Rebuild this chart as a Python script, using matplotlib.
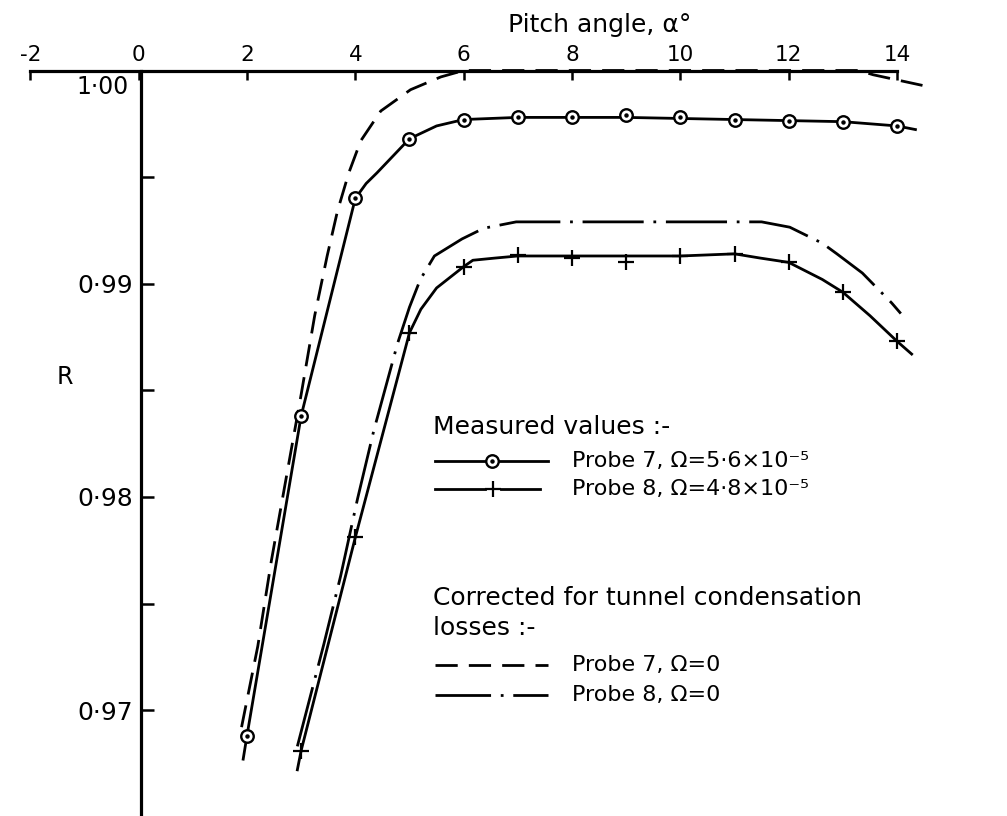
import matplotlib
matplotlib.use("Agg")
import matplotlib.pyplot as plt
from matplotlib.lines import Line2D
from matplotlib.ticker import FixedLocator, FixedFormatter

plt.rcParams["font.family"] = ["DejaVu Sans"]
plt.rcParams["lines.scale_dashes"] = False

# ---- measured values -------------------------------------------------------
alpha_p7 = [2, 3, 4, 5, 6, 7, 8, 9, 10, 11, 12, 13, 14]
r_p7 = [0.9688, 0.9838, 0.9940, 0.9968, 0.9977, 0.9978, 0.9978, 0.9979,
        0.9978, 0.9977, 0.99765, 0.9976, 0.9974]

alpha_p8 = [3, 4, 5, 6, 7, 8, 9, 10, 11, 12, 13, 14]
r_p8 = [0.9681, 0.9781, 0.9877, 0.9908, 0.99135, 0.9912, 0.9910, 0.9913,
        0.9914, 0.9910, 0.9896, 0.9873]

# ---- faired curves through the measured values ------------------------------
fair_p7_alpha = [1.93, 2.0, 3.0, 4.0, 4.2, 4.4, 4.7, 5.0, 5.5, 6.0, 7.0, 9.0,
                 11.0, 12.0, 13.0, 14.0, 14.34]
fair_p7_r = [0.9677, 0.9688, 0.9838, 0.9940, 0.9947, 0.9952, 0.9960, 0.9968,
             0.9974, 0.9977, 0.9978, 0.9978, 0.9977, 0.99765, 0.9976, 0.9974,
             0.99723]

fair_p8_alpha = [2.93, 3.0, 4.0, 5.0, 5.21, 5.5, 6.0, 6.17, 6.57, 7.0, 8.0,
                 9.0, 10.0, 11.0, 11.48, 12.0, 12.62, 13.0, 13.5, 14.0, 14.27]
fair_p8_r = [0.9672, 0.9681, 0.9781, 0.9877, 0.9888, 0.9898, 0.9908, 0.9911,
             0.9912, 0.9913, 0.9913, 0.9913, 0.9913, 0.9914, 0.9912, 0.9910,
             0.9902, 0.9896, 0.9885, 0.9873, 0.9867]

# ---- corrected for tunnel condensation losses (Omega = 0) -------------------
corr_p7_alpha = [1.9, 2.2, 2.45, 2.76, 3.0, 3.25, 3.48, 3.67, 3.88, 4.1, 4.47,
                 5.02, 5.58, 6.0, 13.3, 13.56, 14.47]
corr_p7_r = [0.9692, 0.9730, 0.9770, 0.9814, 0.9848, 0.9885, 0.9913, 0.9934,
             0.9952, 0.9967, 0.9981, 0.9991, 0.9997, 1.0000, 1.0000, 0.9998,
             0.9993]

corr_p8_alpha = [2.93, 3.42, 3.73, 4.04, 4.34, 4.78, 5.0, 5.2, 5.46, 5.97,
                 6.37, 6.97, 9.0, 11.5, 12.02, 12.62, 12.89, 13.36, 13.9, 14.07]
corr_p8_r = [0.9683, 0.9731, 0.9763, 0.9799, 0.9831, 0.9872, 0.9889, 0.9902,
             0.9913, 0.9921, 0.9926, 0.9929, 0.9929, 0.9929, 0.99265, 0.9919,
             0.9914, 0.9905, 0.9891, 0.9886]

# ---- axis ticks -------------------------------------------------------------
x_ticks = [-2, 0, 2, 4, 6, 8, 10, 12, 14]
x_tick_labels = ["-2", "0", "2", "4", "6", "8", "10", "12", "14"]
y_ticks = [0.965, 0.970, 0.975, 0.980, 0.985, 0.990, 0.995]
y_tick_labels = ["", "0·97", "", "0·98", "", "0·99", ""]

W, H = 1007, 816
fig = plt.figure(figsize=(W / 100, H / 100), dpi=100)
fig.patch.set_facecolor("white")


def fx(px):
    return px / W


def fy(py):
    return 1 - py / H


# axes frame: alpha -2.5 .. 15 across, R 0.965 .. 1.00 down the page
ax = fig.add_axes([fx(3.2), fy(816.7), fx(951.2) - fx(3.2), fy(70.5) - fy(816.7)])
ax.set_xlim(-2.5, 15.0)
ax.set_ylim(0.965, 1.0)
ax.patch.set_alpha(0)

LW = 2.0
ink = "black"

for side in ("bottom", "right"):
    ax.spines[side].set_visible(False)
ax.spines["top"].set_bounds(-2, 14)
ax.spines["top"].set_linewidth(2.3)
ax.spines["left"].set_position(("data", 0.05))
ax.spines["left"].set_bounds(0.965, 1.0)
ax.spines["left"].set_linewidth(2.3)

ax.xaxis.tick_top()
ax.xaxis.set_major_locator(FixedLocator(x_ticks))
ax.xaxis.set_major_formatter(FixedFormatter(x_tick_labels))
ax.tick_params(axis="x", direction="in", length=6.5, width=1.8, pad=4,
               labelsize=15.5)
ax.yaxis.set_major_locator(FixedLocator(y_ticks))
ax.yaxis.set_major_formatter(FixedFormatter(y_tick_labels))
ax.tick_params(axis="y", direction="in", length=9, width=1.8, pad=6,
               labelsize=18)

ax.annotate("1·00", xy=(0.05, 1.0), xytext=(-9, -12),
            textcoords="offset points", ha="right", va="center", fontsize=17)

# corrected curves
ax.plot(corr_p7_alpha, corr_p7_r, color=ink, lw=LW, dashes=(16, 8),
        clip_on=False, zorder=2)
ax.plot(corr_p8_alpha, corr_p8_r, color=ink, lw=LW, dashes=(44, 7, 2, 7),
        clip_on=False, zorder=2)

# faired measured curves
ax.plot(fair_p7_alpha, fair_p7_r, color=ink, lw=LW, clip_on=False, zorder=3)
ax.plot(fair_p8_alpha, fair_p8_r, color=ink, lw=LW, clip_on=False, zorder=3)

# measured points
ax.plot(alpha_p7, r_p7, ls="none", marker="o", ms=9, mfc="white", mec=ink,
        mew=1.7, clip_on=False, zorder=4)
ax.plot(alpha_p7, r_p7, ls="none", marker="o", ms=2.2, mfc=ink, mec=ink,
        clip_on=False, zorder=5)
ax.plot(alpha_p8, r_p8, ls="none", marker="+", ms=11, mec=ink, mew=1.6,
        clip_on=False, zorder=4)

# axis captions
fig.text(fx(600), fy(25), "Pitch angle, α°", ha="center", va="center",
         fontsize=18)
fig.text(fx(65), fy(377), "R", ha="center", va="center", fontsize=17)

# key
TXT = 18
ENTRY = 16
KEY_X0, KEY_X1, TEXT_X, HEAD_X = 435, 548, 572, 433
Y_P7, Y_P8 = 461, 489


def key_line(y, x0=KEY_X0, x1=KEY_X1, **kw):
    fig.add_artist(Line2D([fx(x0), fx(x1)], [fy(y), fy(y)],
                          transform=fig.transFigure, color=ink, lw=LW, **kw))


fig.text(fx(HEAD_X), fy(427), "Measured values :-", ha="left", va="center",
         fontsize=TXT)
key_line(Y_P7)
fig.add_artist(Line2D([fx(492)], [fy(Y_P7)], transform=fig.transFigure,
                      ls="none", marker="o", ms=9, mfc="white", mec=ink,
                      mew=1.7))
fig.add_artist(Line2D([fx(492)], [fy(Y_P7)], transform=fig.transFigure,
                      ls="none", marker="o", ms=2.2, mfc=ink, mec=ink))
fig.text(fx(TEXT_X), fy(Y_P7), "Probe 7, Ω=5·6×10⁻⁵", ha="left",
         va="center", fontsize=ENTRY)
key_line(Y_P8, KEY_X0, 485)
key_line(Y_P8, 501, 540)
fig.add_artist(Line2D([fx(493)], [fy(Y_P8)], transform=fig.transFigure,
                      ls="none", marker="+", ms=11, mec=ink, mew=1.6))
fig.text(fx(TEXT_X), fy(Y_P8), "Probe 8, Ω=4·8×10⁻⁵", ha="left",
         va="center", fontsize=ENTRY)

fig.text(fx(HEAD_X), fy(598), "Corrected for tunnel condensation",
         ha="left", va="center", fontsize=TXT)
fig.text(fx(HEAD_X), fy(628), "losses :-", ha="left", va="center",
         fontsize=TXT)
key_line(665, dashes=(16, 8))
fig.text(fx(TEXT_X), fy(665), "Probe 7, Ω=0", ha="left", va="center",
         fontsize=ENTRY)
key_line(695, dashes=(40, 7, 2, 7))
fig.text(fx(TEXT_X), fy(695), "Probe 8, Ω=0", ha="left", va="center",
         fontsize=ENTRY)

fig.savefig("out.png", dpi=100, facecolor="white")
